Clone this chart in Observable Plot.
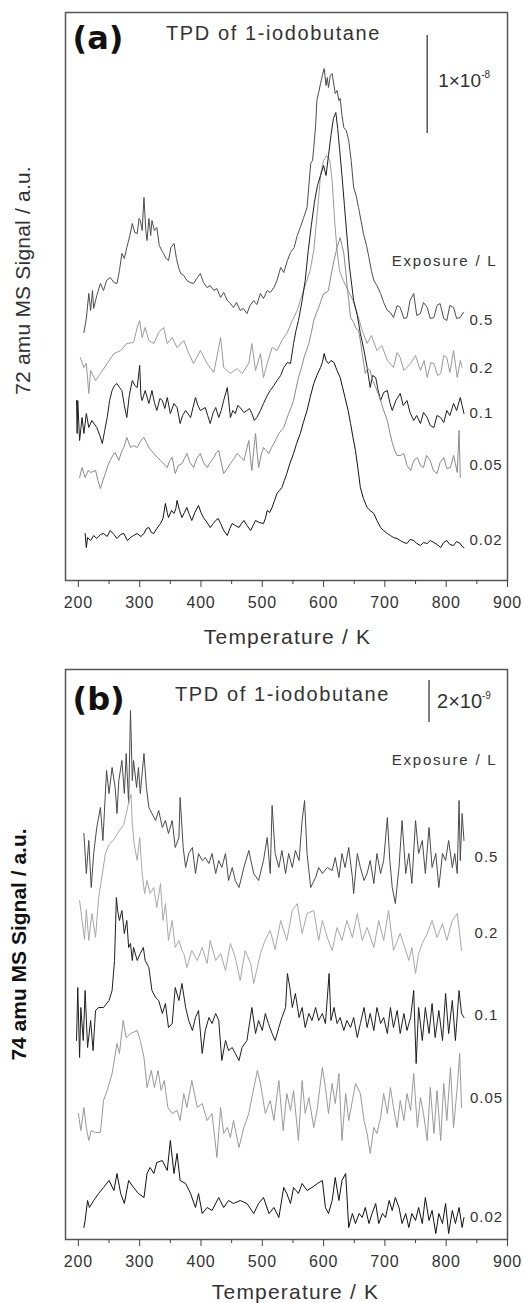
<!DOCTYPE html>
<html>
<head>
<meta charset="utf-8">
<script src="https://cdn.jsdelivr.net/npm/d3@7"></script>
<script src="https://cdn.jsdelivr.net/npm/@observablehq/plot@0.6"></script>
<style>
  html, body { margin: 0; padding: 0; background: #fff; }
  #chart { width: 525px; }
  #chart svg { display: block; }
</style>
</head>
<body>
<div id="chart"></div>
<script>
// ---------- shared axis data ----------
const majorTicks = [200, 300, 400, 500, 600, 700, 800, 900];
const minorTicks = [250, 350, 450, 550, 650, 750, 850];
const xDomain = [179, 900];
const xLabel = "Temperature / K";
const exposures = ["0.5", "0.2", "0.1", "0.05", "0.02"];

// ---------- panel (a): 72 amu, traces [T (K), stacked signal (a.u.)] ----------
const a05 = [[209,248],[213,262],[217,287],[220,270],[223,290],[225,272],[230,285],[236,297],[241,290],[246,300],[252,303],[258,298],[263,297],[267,310],[271,327],[275,322],[279,333],[284,345],[288,357],[292,348],[296,347],[299,362],[301,360],[304,350],[307,383],[310,350],[312,340],[315,362],[318,345],[320,360],[324,350],[328,353],[332,335],[336,330],[339,327],[343,322],[347,320],[351,333],[356,337],[360,322],[364,312],[367,307],[372,305],[377,300],[382,298],[388,297],[393,302],[399,307],[404,298],[410,293],[415,295],[421,290],[426,292],[432,283],[437,288],[443,280],[448,277],[453,273],[458,278],[464,270],[469,272],[475,267],[480,275],[486,280],[491,276],[497,287],[502,282],[508,290],[513,288],[519,293],[524,300],[530,313],[535,308],[541,320],[546,328],[552,333],[557,345],[562,353],[567,362],[573,373],[576,395],[579,417],[582,420],[584,433],[587,455],[589,480],[592,488],[595,497],[598,505],[601,512],[604,495],[606,503],[608,493],[611,505],[614,507],[617,495],[619,487],[622,490],[625,480],[627,482],[630,465],[633,453],[637,450],[641,440],[645,420],[649,393],[653,385],[657,373],[661,360],[665,347],[670,335],[674,323],[678,310],[682,300],[687,295],[693,287],[698,278],[704,270],[709,268],[714,263],[720,275],[725,273],[731,262],[736,263],[741,280],[747,287],[752,265],[758,267],[763,278],[769,273],[774,262],[780,263],[785,275],[790,277],[796,262],[801,260],[806,275],[812,273],[817,262],[823,263],[828,268]];
const a02 = [[203,223],[209,213],[213,217],[217,187],[220,210],[228,200],[236,207],[247,217],[258,227],[269,230],[279,237],[290,238],[296,253],[300,260],[304,243],[309,253],[315,240],[323,237],[331,248],[339,253],[345,237],[353,243],[361,233],[372,240],[380,227],[388,217],[399,230],[410,217],[421,208],[432,243],[437,213],[448,207],[459,212],[467,207],[478,217],[483,237],[489,210],[497,227],[502,203],[508,217],[516,233],[524,230],[532,240],[540,247],[549,260],[557,270],[562,280],[570,295],[578,310],[584,330],[590,370],[595,405],[600,420],[605,425],[610,420],[614,400],[618,360],[622,330],[626,310],[632,300],[640,290],[648,280],[656,265],[663,250],[671,237],[678,245],[687,230],[695,235],[704,220],[714,213],[720,228],[725,223],[731,210],[742,217],[750,225],[758,210],[764,220],[769,203],[775,218],[780,217],[786,205],[791,207],[796,225],[801,223],[806,208],[812,230],[818,203],[823,220],[826,213]];
const a01 = [[197,180],[198,147],[199,180],[202,140],[206,163],[209,147],[213,167],[217,153],[222,160],[230,153],[235,145],[239,137],[243,150],[247,163],[251,180],[255,190],[259,195],[263,197],[267,193],[271,190],[275,175],[279,163],[283,185],[288,200],[292,195],[296,193],[300,215],[302,185],[304,180],[309,190],[315,177],[320,190],[324,178],[328,170],[333,182],[337,180],[341,172],[345,183],[350,167],[356,177],[361,173],[366,157],[370,165],[375,170],[383,163],[391,183],[395,175],[399,170],[407,173],[411,165],[415,157],[420,168],[424,173],[429,163],[433,170],[437,180],[443,193],[448,163],[452,170],[456,167],[460,175],[464,173],[470,168],[475,170],[479,172],[483,167],[487,160],[491,163],[497,170],[502,177],[508,185],[513,190],[519,195],[524,200],[530,205],[535,213],[541,218],[546,217],[551,237],[555,250],[559,260],[565,280],[570,300],[575,330],[580,355],[585,378],[590,395],[595,405],[600,415],[604,405],[608,425],[612,445],[616,462],[620,468],[623,452],[626,432],[630,405],[634,375],[638,345],[642,315],[646,295],[649,280],[655,265],[660,247],[666,230],[671,213],[676,193],[680,205],[685,203],[689,190],[693,180],[698,188],[704,190],[708,178],[712,170],[718,180],[725,187],[730,175],[736,180],[741,168],[747,160],[752,165],[758,157],[763,168],[769,163],[774,155],[780,153],[785,165],[791,163],[796,158],[801,170],[806,165],[812,177],[817,170],[823,183],[826,175],[829,167]];
const a005 = [[202,103],[206,113],[211,103],[216,110],[220,108],[228,110],[232,100],[236,92],[240,100],[244,107],[248,115],[252,120],[256,125],[260,128],[266,120],[270,128],[274,133],[279,143],[285,133],[290,135],[296,133],[302,140],[307,143],[311,138],[315,133],[319,130],[323,127],[329,123],[334,120],[340,116],[345,113],[349,120],[353,123],[358,107],[363,115],[369,117],[373,122],[377,127],[382,118],[388,113],[393,122],[399,127],[404,118],[410,113],[415,118],[421,123],[425,128],[429,130],[433,118],[437,107],[443,112],[448,117],[454,122],[459,127],[464,124],[470,120],[474,130],[478,140],[481,120],[483,110],[486,130],[489,147],[492,125],[494,113],[498,125],[502,133],[506,130],[511,127],[515,133],[519,137],[523,142],[527,147],[531,150],[535,153],[539,160],[543,167],[547,173],[551,180],[555,192],[559,203],[564,213],[568,223],[572,230],[576,237],[580,248],[584,260],[588,267],[592,273],[596,280],[600,287],[604,288],[608,290],[612,305],[617,320],[622,333],[627,343],[630,335],[633,327],[636,310],[638,297],[641,280],[644,263],[649,258],[653,252],[657,250],[660,240],[663,227],[666,215],[668,207],[672,212],[676,210],[680,200],[685,193],[689,187],[693,180],[698,170],[704,160],[708,148],[712,138],[716,130],[720,125],[725,125],[731,127],[736,115],[742,110],[747,120],[753,123],[758,115],[763,113],[768,125],[774,120],[779,110],[785,107],[790,118],[796,123],[801,112],[807,113],[812,125],[815,117],[818,108],[821,150],[823,103]];
const a002 = [[211,47],[213,33],[215,43],[220,40],[225,45],[230,42],[236,46],[241,47],[247,44],[252,50],[258,46],[263,42],[269,46],[274,47],[280,40],[285,43],[290,45],[296,47],[302,44],[307,47],[311,52],[315,53],[319,48],[323,47],[328,52],[334,57],[338,62],[342,77],[345,68],[347,63],[352,70],[356,67],[359,72],[361,80],[365,70],[369,63],[373,68],[377,73],[381,66],[385,60],[390,68],[396,75],[400,68],[404,63],[410,58],[415,53],[420,57],[424,60],[428,62],[432,57],[437,50],[443,45],[447,52],[451,57],[456,55],[462,53],[466,57],[470,60],[475,55],[481,50],[485,55],[489,60],[495,58],[502,57],[505,62],[508,70],[512,68],[516,73],[520,80],[524,87],[528,90],[532,93],[536,100],[540,107],[545,117],[551,127],[556,137],[562,147],[567,158],[573,170],[578,183],[584,197],[589,205],[595,213],[598,218],[601,227],[604,220],[608,217],[612,220],[617,218],[620,213],[622,210],[627,203],[631,193],[635,183],[640,170],[644,157],[648,143],[652,130],[656,112],[660,93],[665,82],[671,73],[676,70],[682,67],[687,60],[693,53],[698,50],[704,47],[709,45],[714,43],[720,42],[725,40],[731,38],[736,37],[741,41],[747,40],[752,37],[758,35],[763,38],[769,37],[774,40],[780,38],[785,36],[791,33],[796,38],[801,40],[806,36],[812,35],[817,39],[823,37],[826,34],[829,33]];
const levelsA = [260, 212, 167, 115, 40];            // trace label levels
const scaleBarA = {x: 769, y1: 447, y2: 545, mantissa: "1×10", exponent: "-8"};

// ---------- panel (b): 74 amu ----------
const b05 = [[209,406],[213,366],[217,399],[221,352],[225,386],[230,412],[236,432],[240,399],[246,469],[250,446],[255,472],[260,452],[263,426],[266,459],[271,479],[275,446],[278,486],[282,436],[285,529],[288,459],[290,479],[295,452],[298,472],[301,446],[307,486],[311,452],[315,432],[320,426],[326,419],[331,429],[337,412],[342,419],[347,406],[353,419],[358,392],[364,402],[366,442],[371,392],[375,372],[380,386],[386,392],[391,366],[396,386],[402,379],[407,382],[413,376],[418,386],[424,366],[429,379],[434,372],[440,386],[445,359],[451,372],[456,359],[462,352],[470,372],[478,389],[486,366],[494,359],[502,379],[508,402],[513,366],[516,434],[521,386],[527,372],[532,389],[538,366],[543,386],[549,372],[554,389],[560,379],[565,419],[569,439],[573,386],[579,352],[587,362],[592,372],[598,366],[606,372],[614,369],[619,382],[625,362],[630,386],[635,372],[641,392],[647,362],[649,346],[655,386],[660,372],[666,359],[671,366],[676,379],[682,356],[687,386],[693,366],[698,379],[704,422],[708,379],[712,352],[717,336],[723,372],[728,419],[734,366],[739,386],[744,356],[750,419],[755,386],[761,399],[766,366],[772,412],[777,372],[783,386],[788,352],[794,386],[799,379],[804,399],[810,372],[814,386],[818,366],[821,439],[823,379],[826,426],[829,399]];
const b02 = [[202,339],[206,319],[210,300],[213,330],[217,299],[222,326],[228,302],[233,342],[239,365],[244,386],[250,395],[258,400],[266,408],[274,415],[279,428],[283,440],[286,445],[288,415],[291,395],[296,379],[300,402],[304,366],[308,346],[312,359],[317,346],[323,352],[328,332],[334,356],[338,319],[342,336],[347,299],[353,319],[358,292],[364,299],[369,289],[372,286],[377,272],[385,289],[394,279],[402,292],[410,276],[415,299],[424,279],[432,286],[440,269],[448,296],[456,282],[464,259],[472,289],[481,276],[486,256],[497,286],[505,300],[513,309],[521,290],[530,319],[540,299],[549,329],[557,336],[565,306],[573,326],[584,329],[592,299],[598,319],[606,302],[614,289],[622,312],[630,299],[638,319],[647,302],[655,326],[663,299],[671,312],[682,292],[690,319],[698,299],[706,329],[714,289],[725,306],[734,289],[739,279],[744,292],[750,266],[755,286],[761,296],[769,306],[777,319],[785,302],[794,316],[801,299],[810,319],[818,326],[822,306],[825,289]];
const b01 = [[197,199],[199,252],[202,182],[204,232],[208,199],[211,249],[215,192],[220,219],[224,189],[228,229],[233,232],[241,232],[250,239],[255,249],[259,279],[262,342],[264,329],[267,319],[271,329],[275,306],[279,319],[282,292],[285,296],[288,279],[290,292],[296,279],[301,286],[306,292],[309,279],[315,272],[320,249],[326,242],[331,239],[337,226],[342,236],[347,212],[353,216],[358,252],[364,239],[369,256],[375,232],[380,219],[386,209],[391,222],[396,229],[402,186],[407,209],[413,222],[418,216],[424,226],[429,219],[434,179],[440,199],[445,189],[451,192],[456,186],[462,179],[467,192],[475,199],[483,232],[489,206],[494,219],[500,209],[505,226],[510,216],[516,206],[521,199],[527,212],[532,222],[538,232],[541,266],[545,252],[549,232],[554,246],[560,222],[565,232],[570,212],[576,226],[581,219],[587,232],[592,219],[598,226],[603,216],[609,266],[612,219],[617,232],[622,216],[627,222],[633,209],[638,219],[644,212],[649,222],[655,202],[660,216],[666,232],[671,212],[676,226],[682,209],[687,232],[693,216],[698,222],[704,206],[709,232],[714,212],[720,229],[725,206],[731,226],[736,209],[742,222],[747,249],[751,176],[755,232],[761,199],[766,232],[772,206],[777,236],[782,202],[788,229],[794,199],[799,246],[804,206],[810,239],[815,199],[821,249],[825,226],[829,222]];
const b005 = [[200,126],[204,109],[209,132],[213,112],[217,99],[221,109],[228,107],[236,107],[241,139],[247,149],[255,166],[263,196],[267,186],[273,219],[278,202],[285,206],[296,209],[301,199],[307,182],[312,152],[319,169],[324,152],[330,169],[335,149],[340,159],[346,132],[353,126],[361,129],[366,119],[372,146],[377,132],[385,159],[394,132],[402,136],[410,119],[418,126],[426,82],[432,132],[437,106],[443,112],[448,102],[453,119],[462,92],[470,112],[478,126],[483,142],[492,169],[497,156],[505,126],[513,139],[519,119],[527,159],[534,109],[540,146],[546,129],[551,149],[559,99],[565,159],[570,126],[576,142],[584,112],[590,132],[598,172],[603,152],[608,126],[614,156],[619,136],[625,166],[630,99],[636,146],[641,119],[647,139],[652,156],[660,146],[666,119],[671,106],[676,86],[682,112],[687,106],[693,122],[698,146],[704,126],[709,152],[714,132],[720,112],[725,139],[731,119],[736,146],[742,129],[747,166],[753,112],[758,142],[763,126],[769,99],[774,152],[780,106],[785,149],[791,99],[796,156],[801,119],[807,172],[812,112],[818,152],[822,186],[825,132]];
const b002 = [[209,12],[211,19],[215,39],[218,32],[225,39],[233,46],[241,52],[250,59],[258,49],[263,66],[269,46],[275,36],[282,59],[290,52],[298,46],[307,42],[312,66],[317,72],[323,66],[328,77],[337,79],[345,69],[350,99],[356,66],[361,86],[366,59],[375,56],[383,46],[391,32],[396,46],[402,26],[410,32],[418,29],[429,42],[437,32],[445,39],[453,36],[464,39],[475,36],[486,26],[494,36],[502,42],[511,26],[519,32],[527,22],[535,52],[540,46],[546,36],[551,52],[559,46],[565,56],[573,49],[581,52],[590,56],[598,59],[603,32],[608,26],[614,39],[619,62],[625,39],[630,59],[636,66],[641,12],[647,26],[652,16],[658,26],[663,22],[668,32],[674,16],[679,26],[685,36],[690,16],[696,26],[701,22],[707,39],[712,29],[717,42],[723,32],[728,16],[734,26],[739,12],[744,26],[750,19],[755,32],[761,16],[766,42],[772,19],[777,29],[783,6],[788,26],[794,16],[799,36],[804,6],[810,29],[815,16],[821,32],[826,12],[829,22]];
const levelsB = [382, 306, 224, 141, 22];
const scaleBarB = {x: 772, y1: 517, y2: 559, mantissa: "2×10", exponent: "-9"};

// trace colours (0.5, 0.2, 0.1, 0.05, 0.02)
const colorsA = ["#4d4d4d", "#9a9a9a", "#1e1e1e", "#8a8a8a", "#111111"];
const colorsB = ["#4a4a4a", "#a8a8a8", "#1e1e1e", "#999999", "#111111"];

const FONT = "'Liberation Sans', Arial, Helvetica, sans-serif";

function panel(cfg) {
  const series = cfg.traces.map((d, i) => ({name: exposures[i], data: d, color: cfg.colors[i], level: cfg.levels[i]}));
  const T = {lineAnchor: "middle", fill: "#333"};
  const marks = [
    Plot.frame({stroke: "#555", strokeWidth: 1.5}),
    Plot.axisX({ticks: majorTicks, tickSize: 7, tickFormat: () => "", label: null, stroke: "#444"}),
    Plot.axisX({ticks: minorTicks, tickSize: 4, tickFormat: () => "", label: null, stroke: "#444"}),
    Plot.text(majorTicks, {...T, x: d => d, frameAnchor: "bottom", dy: 22, text: d => String(d), fontSize: 16}),
    Plot.text([xLabel], {...T, frameAnchor: "bottom", textAnchor: "middle", dx: cfg.xLabelDx, dy: cfg.xLabelDy, text: d => d, fontSize: 21}),
    Plot.text([cfg.yLabel], {...T, frameAnchor: "left", textAnchor: "middle", rotate: -90, dx: cfg.yLabelDx, dy: cfg.yLabelDy, text: d => d,
      fontSize: 21, fontWeight: cfg.yLabelBold ? "bold" : "normal", fill: cfg.yLabelBold ? "#111" : "#333"}),
    ...series.map(s => Plot.line(s.data, {x: d => d[0], y: d => d[1], stroke: s.color, strokeWidth: 1, strokeLinejoin: "round"})),
    Plot.text(series, {...T, y: "level", text: "name", frameAnchor: "right", dx: cfg.seriesDx, textAnchor: cfg.seriesAnchor, fontSize: 15}),
    Plot.text([cfg.tag], {...T, frameAnchor: "top-left", dx: 7, dy: cfg.tagDy, text: d => d, textAnchor: "start",
      fontFamily: "'DejaVu Sans', sans-serif", fontWeight: "bold", fontSize: 32, fill: "#111"}),
    Plot.text(["TPD of 1-iodobutane"], {...T, frameAnchor: "top-left", textAnchor: "middle", dx: cfg.titleDx, dy: cfg.titleDy, text: d => d, fontSize: 20}),
    Plot.text(["Exposure / L"], {...T, frameAnchor: "top-right", dx: -10, dy: cfg.expDy, text: d => d, textAnchor: "end", fontSize: 15}),
    Plot.ruleX([cfg.bar], {x: "x", y1: "y1", y2: "y2", stroke: "#555", strokeWidth: 1.5}),
    Plot.text([cfg.bar], {...T, x: "x", y: d => (d.y1 + d.y2) / 2, text: "mantissa", textAnchor: "start", dx: cfg.barDx, dy: cfg.barDy, fontSize: cfg.barFont}),
    Plot.text([cfg.bar], {...T, x: "x", y: d => (d.y1 + d.y2) / 2, text: "exponent", textAnchor: "start", dx: cfg.expoDx, dy: cfg.expoDy, fontSize: 10})
  ];
  const svg = Plot.plot({
    width: 525, height: cfg.height,
    marginLeft: 65, marginRight: 18, marginTop: cfg.marginTop, marginBottom: cfg.marginBottom,
    x: {domain: xDomain, axis: null},
    y: {domain: cfg.yDomain, axis: null},
    style: {fontFamily: FONT, background: "#fff", overflow: "visible"},
    marks
  });
  d3.select(svg).selectAll("text").each(function () {
    const t = this.textContent;
    let ls = null;
    if (/^\d00$/.test(t)) ls = "0.8px";
    else if (t === xLabel) ls = "1.2px";
    else if (t.startsWith("TPD")) ls = "1.6px";
    else if (t.startsWith("Exposure")) ls = "1.8px";
    else if (/^0\.\d+$/.test(t)) ls = "1px";
    else if (t.startsWith("72 amu")) ls = "0.2px";
    if (ls) this.style.letterSpacing = ls;
  });
  return svg;
}

const chart = document.getElementById("chart");
chart.append(panel({
  traces: [a05, a02, a01, a005, a002], colors: colorsA, levels: levelsA,
  height: 650, marginTop: 12, marginBottom: 70, yDomain: [0, 568],
  xLabelDx: 1, xLabelDy: 57, yLabel: "72 amu MS Signal / a.u.", yLabelBold: false, yLabelDx: -42, yLabelDy: -16,
  seriesDx: -38, seriesAnchor: "start", tag: "(a)", tagDy: 26, titleDx: 208, titleDy: 21, expDy: 249,
  bar: scaleBarA, barDx: 11, barDy: -4, barFont: 19, expoDx: 54, expoDy: -10
}));
chart.append(panel({
  traces: [b05, b02, b01, b005, b002], colors: colorsB, levels: levelsB,
  height: 653, marginTop: 19, marginBottom: 64, yDomain: [0, 570],
  xLabelDx: 9, xLabelDy: 53, yLabel: "74 amu MS Signal / a.u.", yLabelBold: true, yLabelDx: -46, yLabelDy: -10,
  seriesDx: -21, seriesAnchor: "middle", tag: "(b)", tagDy: 30, titleDx: 217, titleDy: 25, expDy: 91,
  bar: scaleBarB, barDx: 8, barDy: 0, barFont: 20, expoDx: 53, expoDy: -6
}));
</script>
</body>
</html>
